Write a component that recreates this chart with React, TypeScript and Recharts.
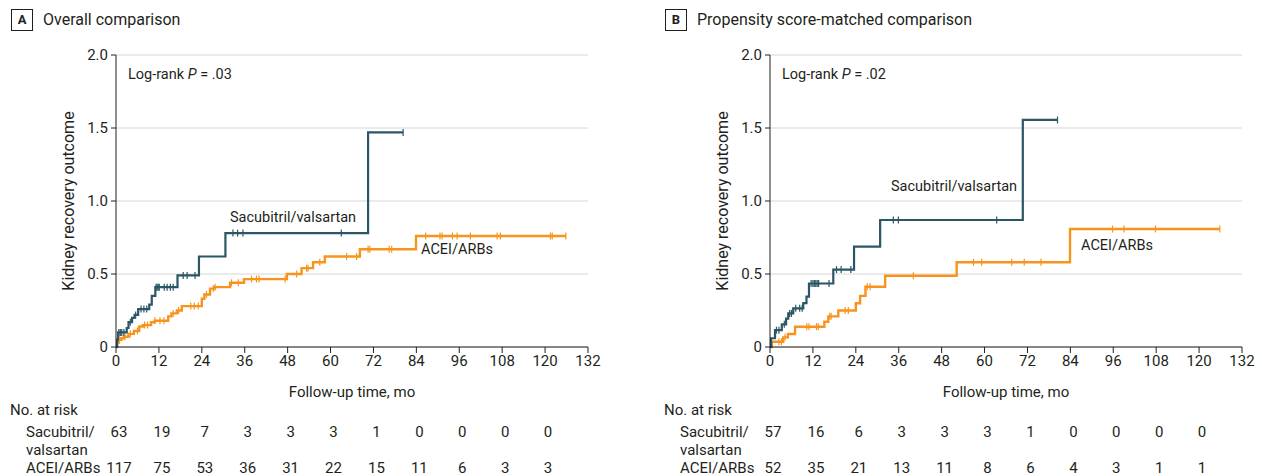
import React from 'react';
import { ComposedChart, Line, Scatter, XAxis, YAxis, CartesianGrid } from 'recharts';

// step curves: [month, cumulative outcome]
const sacStepsA = [
  [0, 0], [0.3, 0.05], [0.6, 0.1], [3, 0.13], [3.5, 0.17], [4.5, 0.2], [5.2, 0.22], [6.2, 0.26],
  [9.3, 0.29], [10, 0.35], [11, 0.41], [17.2, 0.49], [23.2, 0.62], [30.6, 0.78], [70.5, 1.47], [80.3, 1.47],
];
const sacCensorA = [0.8, 1.2, 1.6, 2.2, 4, 5.5, 7, 7.8, 8.6, 11.2, 11.5, 11.8, 12.1, 13.5, 14.3, 15.2, 16, 18.8, 19.9, 22.1, 32.7, 34, 35.5, 63, 80.3];
const aceStepsA = [
  [0, 0], [0.3, 0.03], [0.8, 0.05], [1.5, 0.06], [2.2, 0.07], [3.5, 0.09], [5, 0.11], [6.5, 0.14], [7.5, 0.15],
  [9.8, 0.17], [10.8, 0.18], [14.6, 0.21], [15.5, 0.23], [17, 0.25], [18.4, 0.28], [24, 0.33], [24.7, 0.36],
  [26.3, 0.4], [27.5, 0.41], [31.9, 0.44], [35.8, 0.465], [47.8, 0.5], [51.9, 0.54], [55.1, 0.58], [58.4, 0.62],
  [68.2, 0.67], [83.9, 0.76], [125.8, 0.76],
];
const aceCensorA = [
  1, 2.5, 4, 6, 8, 8.8, 10.9, 12.3, 13.4, 16, 17.5, 20.9, 21.9, 23, 25.3, 27.2, 27.7, 32.3, 34.2, 37.9, 39.3, 40,
  47.3, 50.5, 53.3, 53.7, 57, 64.5, 67.3, 70.5, 71, 76.4, 77.1, 86.6, 90.6, 91.2, 94.1, 95.4, 99.1, 106.6, 107.5,
  121.5, 122, 125.8,
];

const sacStepsB = [
  [0, 0], [0.3, 0.06], [1.4, 0.115], [3.3, 0.155], [4.5, 0.195], [5.1, 0.23], [6.5, 0.265], [9.3, 0.3],
  [10.2, 0.345], [10.9, 0.435], [17.7, 0.53], [23.5, 0.687], [30.8, 0.87], [70.7, 1.555], [80.4, 1.555],
];
const sacCensorB = [1.8, 2.5, 4, 5.5, 6, 7.2, 8.3, 9, 11.5, 12, 12.4, 12.8, 13.2, 13.6, 16.5, 18.6, 19.9, 22.6, 34.5, 35.9, 63.4, 80.4];
const aceStepsB = [
  [0, 0], [0.5, 0.036], [3.7, 0.066], [5, 0.089], [7, 0.139], [15.2, 0.173], [16.3, 0.21], [19.1, 0.25],
  [24, 0.3], [25.2, 0.35], [26.7, 0.413], [32.2, 0.488], [52.2, 0.58], [83.9, 0.808], [125.8, 0.808],
];
const aceCensorB = [2.5, 3.2, 4.2, 10.3, 10.9, 13, 13.5, 16.7, 17.1, 21, 21.9, 27.2, 28, 40.1, 56.9, 59.2, 67.6, 71.1, 75.8, 95.8, 99, 107.8, 125.8];

const xTicks = [0, 12, 24, 36, 48, 60, 72, 84, 96, 108, 120, 132];
const yTicks = [0, 0.5, 1, 1.5, 2];

const riskSacA = [63, 19, 7, 3, 3, 3, 1, 0, 0, 0, 0];
const riskAceA = [117, 75, 53, 36, 31, 22, 15, 11, 6, 3, 3];
const riskSacB = [57, 16, 6, 3, 3, 3, 1, 0, 0, 0, 0];
const riskAceB = [52, 35, 21, 13, 11, 8, 6, 4, 3, 1, 1];

const TEAL = '#2b5665';
const ORANGE = '#f7941d';
const INK = '#231f20';
const FONT = 'Roboto, "Liberation Sans", sans-serif';

const PLOT_LEFT = 116;
const PLOT_RIGHT = 588;
const X_MAX = 132;
const CHART_H = 412;

const toPoints = (steps: number[][]) => steps.map(([t, y]) => ({ t, y }));
const censorPoints = (steps: number[][], times: number[]) =>
  times.map((t) => {
    let y = 0;
    for (const [st, sy] of steps) if (st <= t) y = sy;
    return { t, y };
  });

const censorShape = (color: string) => (props: any) => (
  <line x1={props.cx} x2={props.cx} y1={props.cy - 3.5} y2={props.cy + 3.5} stroke={color} strokeWidth={1.2} />
);

const txt: React.CSSProperties = { position: 'absolute', fontFamily: FONT, fontSize: 15, color: INK, whiteSpace: 'nowrap', lineHeight: '18px' };

interface PanelProps {
  left: number;
  letter: string;
  title: string;
  pValue: string;
  sacSteps: number[][];
  sacCensor: number[];
  aceSteps: number[][];
  aceCensor: number[];
  riskSac: number[];
  riskAce: number[];
  sacLabel: { x: number; y: number };
  aceLabel: { x: number; y: number };
}

const Panel: React.FC<PanelProps> = (p) => {
  const xPix = (t: number) => PLOT_LEFT + (t * (PLOT_RIGHT - PLOT_LEFT)) / X_MAX;
  return (
    <div style={{ position: 'absolute', left: p.left, top: 0, width: 631, height: 476 }}>
      <div style={{ position: 'absolute', left: 11, top: 9, width: 22, height: 22, border: '1px solid #231f20', boxSizing: 'border-box', fontFamily: FONT, fontWeight: 700, fontSize: 13, color: INK, textAlign: 'center', lineHeight: '20px' }}>
        {p.letter}
      </div>
      <div style={{ ...txt, left: 43, top: 11, fontSize: 16 }}>{p.title}</div>

      <ComposedChart width={631} height={CHART_H} margin={{ top: 55, right: 631 - PLOT_RIGHT, left: 0, bottom: 0 }} style={{ position: 'absolute', left: 0, top: 0 }}>
        <CartesianGrid vertical={false} stroke="#d6d6d6" strokeWidth={1} />
        <XAxis
          type="number"
          dataKey="t"
          domain={[0, X_MAX]}
          ticks={xTicks}
          allowDataOverflow
          height={CHART_H - 347}
          tickSize={6}
          tickMargin={2}
          axisLine={{ stroke: INK }}
          tickLine={{ stroke: INK }}
          tick={{ fontSize: 15, fill: INK, fontFamily: FONT }}
          label={{ value: 'Follow-up time, mo', position: 'insideBottom', offset: 15, fontSize: 15, fill: INK, fontFamily: FONT }}
        />
        <YAxis
          type="number"
          dataKey="y"
          domain={[0, 2]}
          ticks={yTicks}
          width={PLOT_LEFT}
          tickSize={5}
          tickMargin={3}
          axisLine={{ stroke: INK }}
          tickLine={{ stroke: INK }}
          tick={{ fontSize: 15, fill: INK, fontFamily: FONT }}
          tickFormatter={(v: number) => (v === 0 ? '0' : v.toFixed(1))}
          label={{ value: 'Kidney recovery outcome', angle: -90, position: 'insideLeft', offset: 68, fontSize: 16, fill: INK, fontFamily: FONT, style: { textAnchor: 'middle' } }}
        />
        <Line data={toPoints(p.aceSteps)} dataKey="y" type="stepAfter" stroke={ORANGE} strokeWidth={2.4} dot={false} activeDot={false} isAnimationActive={false} />
        <Line data={toPoints(p.sacSteps)} dataKey="y" type="stepAfter" stroke={TEAL} strokeWidth={2.2} dot={false} activeDot={false} isAnimationActive={false} />
        <Scatter data={censorPoints(p.aceSteps, p.aceCensor)} shape={censorShape(ORANGE)} isAnimationActive={false} />
        <Scatter data={censorPoints(p.sacSteps, p.sacCensor)} shape={censorShape(TEAL)} isAnimationActive={false} />
      </ComposedChart>

      <div style={{ ...txt, left: 128, top: 66, fontSize: 14.5 }}>
        Log-rank <i>P</i> = {p.pValue}
      </div>
      <div style={{ ...txt, left: p.sacLabel.x, top: p.sacLabel.y - 9, fontSize: 14.5 }}>Sacubitril/valsartan</div>
      <div style={{ ...txt, left: p.aceLabel.x, top: p.aceLabel.y - 9, fontSize: 14.5 }}>ACEI/ARBs</div>

      <div style={{ ...txt, left: 10, top: 401 }}>No. at risk</div>
      <div style={{ ...txt, left: 26, top: 423 }}>Sacubitril/</div>
      <div style={{ ...txt, left: 26, top: 441 }}>valsartan</div>
      <div style={{ ...txt, left: 26, top: 459 }}>ACEI/ARBs</div>
      {p.riskSac.map((n, i) => (
        <div key={'s' + i} style={{ ...txt, left: xPix(xTicks[i]) + 3, top: 423, transform: 'translateX(-50%)' }}>{n}</div>
      ))}
      {p.riskAce.map((n, i) => (
        <div key={'a' + i} style={{ ...txt, left: xPix(xTicks[i]) + 3, top: 459, transform: 'translateX(-50%)' }}>{n}</div>
      ))}
    </div>
  );
};

export default function App() {
  return (
    <div style={{ position: 'absolute', left: 0, top: 0, width: 1262, height: 476, background: '#fff', overflow: 'hidden' }}>
      <Panel
        left={0}
        letter="A"
        title="Overall comparison"
        pValue=".03"
        sacSteps={sacStepsA}
        sacCensor={sacCensorA}
        aceSteps={aceStepsA}
        aceCensor={aceCensorA}
        riskSac={riskSacA}
        riskAce={riskAceA}
        sacLabel={{ x: 230, y: 218 }}
        aceLabel={{ x: 421, y: 250 }}
      />
      <Panel
        left={654}
        letter="B"
        title="Propensity score-matched comparison"
        pValue=".02"
        sacSteps={sacStepsB}
        sacCensor={sacCensorB}
        aceSteps={aceStepsB}
        aceCensor={aceCensorB}
        riskSac={riskSacB}
        riskAce={riskAceB}
        sacLabel={{ x: 237, y: 187 }}
        aceLabel={{ x: 427, y: 246 }}
      />
    </div>
  );
}
